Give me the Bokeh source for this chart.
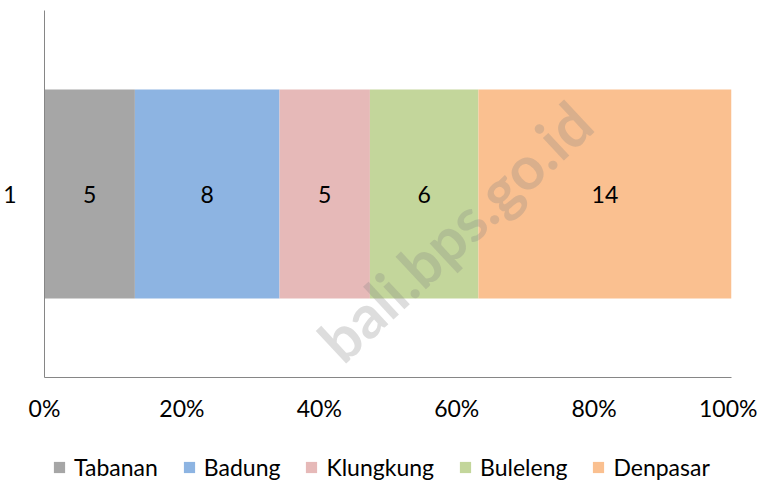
from bokeh.plotting import figure
from bokeh.layouts import column
from bokeh.models import ColumnDataSource, FactorRange, Range1d, NumeralTickFormatter, FixedTicker, Legend, LegendItem, Label
from bokeh.core.properties import value
from bokeh.embed import file_html
from bokeh.resources import INLINE

categories = ["1"]
series = ["Tabanan", "Badung", "Klungkung", "Buleleng", "Denpasar"]
values = [5, 8, 5, 6, 14]
colors = ["#A6A6A6", "#8DB4E2", "#E6B9B8", "#C3D69B", "#FAC090"]
x_ticks = [0, 0.2, 0.4, 0.6, 0.8, 1.0]

FONT = "Lato"
FS = "23px"

total = sum(values)
shares = [v / total for v in values]
data = {"cat": categories}
for s, sh in zip(series, shares):
    data[s] = [sh]
source = ColumnDataSource(data)

p = figure(frame_width=687, frame_height=367, y_range=FactorRange(*categories, range_padding=0),
           x_range=Range1d(0, 1), output_backend="svg", toolbar_location=None,
           min_border_left=37, min_border_right=26, min_border_top=10, min_border_bottom=45)

renderers = p.hbar_stack(series, y="cat", height=0.57, color=colors, source=source, line_color=None)

# data labels
starts = []
acc = 0
for sh in shares:
    starts.append(acc)
    acc += sh
mids = [st + sh / 2 for st, sh in zip(starts, shares)]
lab_src = ColumnDataSource(dict(x=mids, y=categories * len(values), t=[str(v) for v in values]))
p.text(x="x", y="y", text="t", source=lab_src, text_align="center", text_baseline="middle",
       text_font=value(FONT), text_font_size=FS, text_color="#000000")

# watermark
wm = Label(x=0.597, y=0.5, x_offset=0, y_offset=-37, text="bali.bps.go.id", angle=43, angle_units="deg",
           text_font=FONT, text_font_size="60px", text_font_style="bold", text_color="#808080",
           text_alpha=0.27, text_align="center", text_baseline="middle")
p.add_layout(wm)

p.xaxis.ticker = FixedTicker(ticks=x_ticks)
p.xaxis.formatter = NumeralTickFormatter(format="0%")
for ax in (p.xaxis, p.yaxis):
    ax.major_tick_line_color = None
    ax.minor_tick_line_color = None
    ax.axis_line_color = "#868686"
    ax.axis_line_width = 1
    ax.major_label_text_font = FONT
    ax.major_label_text_font_size = FS
    ax.major_label_text_color = "#000000"
p.xaxis.major_label_standoff = 10
p.yaxis.major_label_standoff = 22
p.xgrid.grid_line_color = None
p.ygrid.grid_line_color = None
p.outline_line_color = None

# legend strip
p2 = figure(width=750, height=63, y_range=FactorRange(*categories), x_range=Range1d(0, 1),
            output_backend="svg", toolbar_location=None,
            min_border_left=0, min_border_right=0, min_border_top=0, min_border_bottom=0)
p2.axis.visible = False
p2.grid.visible = False
p2.outline_line_color = None
leg_renderers = p2.hbar_stack(series, y="cat", height=0.57, color=colors, source=source, line_color=None)
for r in leg_renderers:
    r.visible = False

legend = Legend(items=[LegendItem(label=s, renderers=[r]) for s, r in zip(series, leg_renderers)],
                orientation="horizontal", location=(8, 6), glyph_width=14, glyph_height=14,
                label_standoff=8, spacing=24, padding=0, margin=0, border_line_alpha=0,
                background_fill_alpha=0,
                label_text_font=FONT, label_text_font_size=FS, label_text_color="#000000")
p2.add_layout(legend)

layout = column(p, p2, spacing=0)
open("out.html", "w").write(file_html(layout, INLINE))
